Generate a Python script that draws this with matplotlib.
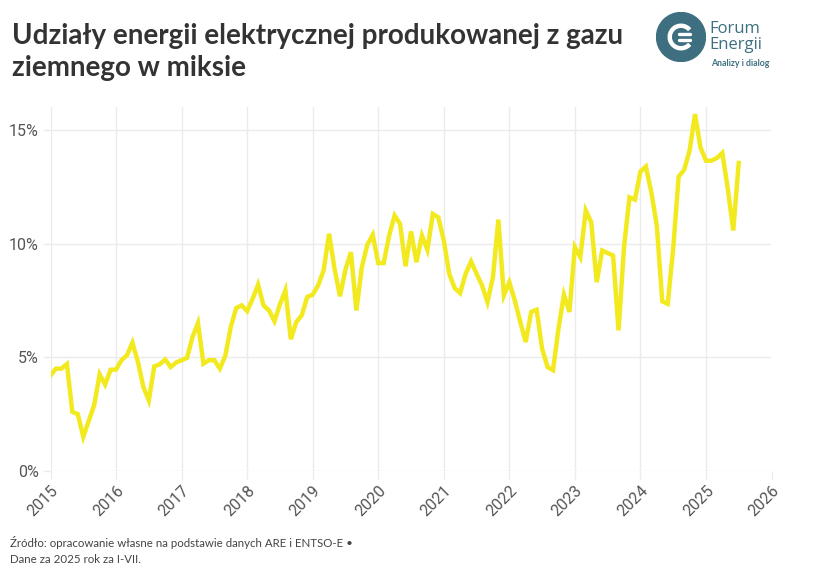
import matplotlib
matplotlib.use("Agg")
import matplotlib.pyplot as plt
from matplotlib import ticker
from matplotlib.patches import Circle, Arc
import pandas as pd

# data: monthly share of gas in electricity mix [%], Jan 2015 - Jul 2025
y2015 = [4.2, 4.5, 4.5, 4.7, 2.6, 2.5, 1.5, 2.2, 2.9, 4.25, 3.8, 4.45]
y2016 = [4.46, 4.87, 5.09, 5.64, 4.8, 3.7, 3.1, 4.6, 4.69, 4.9, 4.57, 4.77]
y2017 = [4.87, 4.97, 5.89, 6.5, 4.72, 4.87, 4.87, 4.5, 5.06, 6.33, 7.16, 7.28]
y2018 = [7.03, 7.57, 8.19, 7.28, 7.06, 6.59, 7.32, 7.94, 5.79, 6.55, 6.84, 7.65]
y2019 = [7.75, 8.16, 8.82, 10.43, 8.89, 7.68, 8.85, 9.62, 7.06, 8.96, 9.94, 10.38]
y2020 = [9.14, 9.14, 10.35, 11.23, 10.86, 9.0, 10.53, 9.18, 10.35, 9.72, 11.3, 11.15]
y2021 = [10.13, 8.67, 8.04, 7.82, 8.67, 9.21, 8.67, 8.16, 7.43, 8.52, 11.05, 7.72]
y2022 = [8.3, 7.5, 6.55, 5.67, 6.99, 7.09, 5.38, 4.57, 4.43, 6.26, 7.75, 6.99]
y2023 = [9.84, 9.4, 11.45, 10.93, 8.3, 9.69, 9.58, 9.47, 6.18, 9.84, 12.03, 11.93]
y2024 = [13.16, 13.38, 12.25, 10.79, 7.46, 7.35, 9.77, 12.94, 13.23, 14.08, 15.69, 14.22]
y2025 = [13.64, 13.64, 13.76, 13.98, 12.4, 10.57, 13.54]

years = list(range(2015, 2027))
y_ticks = [0, 5, 10, 15]

share = (y2015 + y2016 + y2017 + y2018 + y2019 + y2020 + y2021 + y2022
         + y2023 + y2024 + y2025)
dates = pd.date_range("2015-01-01", periods=len(share), freq="MS")
# decimal years for plotting
x = dates.year + (dates.month - 1) / 12

title_1 = "Udziały energii elektrycznej produkowanej z gazu"
title_2 = "ziemnego w miksie"
source_1 = "Źródło: opracowanie własne na podstawie danych ARE i ENTSO-E •"
source_2 = "Dane za 2025 rok za I-VII."

grid_c = "#ebebeb"
tick_c = "#555555"
line_c = "#f2ea1f"
teal = "#3e6f80"

fig = plt.figure(figsize=(8.25, 5.76), dpi=100)
ax = fig.add_axes([50.5 / 825, 1 - 471 / 576, 721 / 825, 364 / 576])

ax.plot(x, share, color=line_c, lw=3.2, solid_joinstyle="miter", zorder=3)

ax.set_xlim(2015, 2026)
ax.set_ylim(0, 16)
ax.xaxis.set_major_locator(ticker.FixedLocator(years))
ax.yaxis.set_major_locator(ticker.FixedLocator(y_ticks))
ax.xaxis.set_major_formatter(ticker.FuncFormatter(lambda v, p: f"{int(v)}"))
ax.yaxis.set_major_formatter(ticker.FuncFormatter(lambda v, p: f"{int(v)}%"))
ax.grid(True, color=grid_c, lw=1)
ax.set_axisbelow(True)
for s in ax.spines.values():
    s.set_visible(False)
ax.tick_params(axis="both", color=grid_c, width=1, length=5.5,
               labelcolor=tick_c, labelsize=11.5, pad=3)
for lab in ax.get_xticklabels():
    lab.set_rotation(45)
    lab.set_ha("right")
    lab.set_rotation_mode("anchor")
    lab.set_fontfamily("Roboto")
for lab in ax.get_yticklabels():
    lab.set_fontfamily("Roboto")

# title and source
fig.text(12 / 825, 1 - 44 / 576, title_1, fontsize=20, fontweight="bold",
         family="Lato", color="#333333", va="baseline")
fig.text(12 / 825, 1 - 76 / 576, title_2, fontsize=20, fontweight="bold",
         family="Lato", color="#333333", va="baseline")
fig.text(10 / 825, 1 - 547 / 576, source_1, fontsize=8.3, family="Lato",
         color="#444444", va="baseline")
fig.text(10 / 825, 1 - 563 / 576, source_2, fontsize=8.3, family="Lato",
         color="#444444", va="baseline")

# logo
lax = fig.add_axes([656 / 825, 1 - 62 / 576, 50 / 825, 50 / 576])
lax.set_xlim(-1, 1)
lax.set_ylim(-1, 1)
lax.set_aspect("equal")
lax.axis("off")
lax.add_patch(Circle((0, 0), 0.98, color=teal))
lax.add_patch(Arc((0, 0), 0.9, 0.9, theta1=40, theta2=320, color="white", lw=3.2))
lax.plot([-0.1, 0.35], [0.13, 0.13], color="white", lw=2.4, solid_capstyle="round")
lax.plot([-0.1, 0.35], [-0.13, -0.13], color="white", lw=2.4, solid_capstyle="round")

fig.text(709 / 825, 1 - 33 / 576, "Forum", fontsize=12, family="Open Sans",
         fontweight="medium", color=teal, va="baseline")
fig.text(709 / 825, 1 - 49 / 576, "Energii", fontsize=12, family="Open Sans",
         fontweight="medium", color=teal, va="baseline")
fig.text(711 / 825, 1 - 66 / 576, "Analizy i dialog", fontsize=6.3,
         fontweight="bold", family="Lato", color=teal, va="baseline")

fig.savefig("out.png", dpi=100, facecolor="white")
